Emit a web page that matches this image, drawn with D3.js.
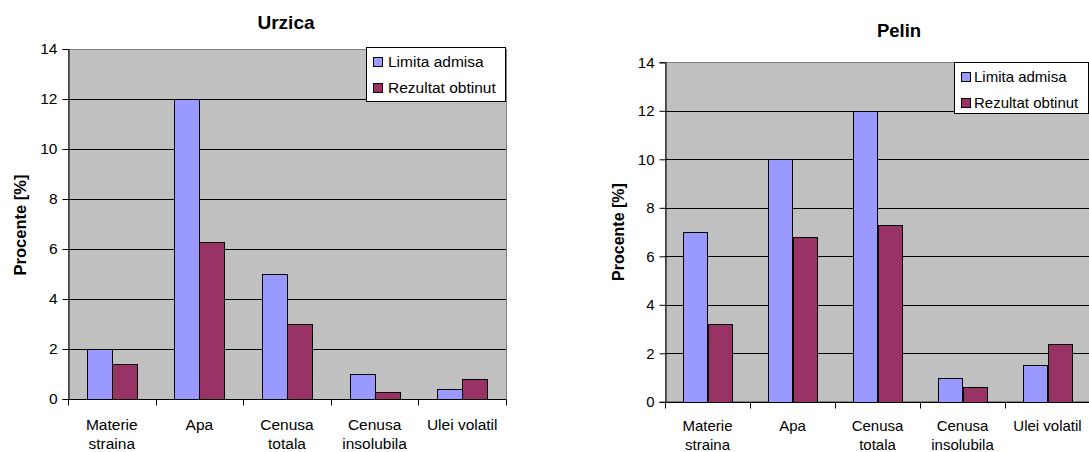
<!DOCTYPE html>
<html>
<head>
<meta charset="utf-8">
<script src="https://cdn.jsdelivr.net/npm/d3@7/dist/d3.min.js"></script>
<style>
  html, body { margin: 0; padding: 0; background: #fff; }
  svg { display: block; }
  text { font-family: "Liberation Sans", Arial, sans-serif; fill: #000; }
</style>
</head>
<body>
<svg id="chart" width="1089" height="452"></svg>
<script>
// ---- DATA ----
const categories = ["Materie straina", "Apa", "Cenusa totala", "Cenusa insolubila", "Ulei volatil"];
const categoryLines = [["Materie", "straina"], ["Apa"], ["Cenusa", "totala"], ["Cenusa", "insolubila"], ["Ulei volatil"]];
const seriesNames = ["Limita admisa", "Rezultat obtinut"];
const seriesColors = ["#9999FF", "#993366"];
const urzicaLimita = [2, 12, 5, 1, 0.4];
const urzicaRezultat = [1.4, 6.3, 3, 0.3, 0.8];
const pelinLimita = [7, 10, 12, 1, 1.5];
const pelinRezultat = [3.2, 6.8, 7.3, 0.6, 2.4];
const yTicks = [0, 2, 4, 6, 8, 10, 12, 14];
const yLabel = "Procente [%]";

const svg = d3.select("#chart");

function drawChart(cfg) {
  const g = svg.append("g");
  const x = d3.scaleBand().domain(categories).range([cfg.left, cfg.right]).paddingInner(0).paddingOuter(0);
  const x1 = d3.scaleBand().domain(seriesNames).range([0, x.bandwidth()]).paddingInner(0).paddingOuter(0.75);
  const y = d3.scaleLinear().domain([0, 14]).range([cfg.bottom, cfg.top]);

  // plot area
  g.append("rect")
    .attr("x", cfg.left).attr("y", y(14))
    .attr("width", cfg.right - cfg.left).attr("height", y(0) - y(14))
    .attr("fill", "#C0C0C0").attr("stroke", "#808080").attr("stroke-width", 1)
    .attr("shape-rendering", "crispEdges");

  // gridlines
  g.selectAll(".grid").data(yTicks.filter(t => t > 0 && t < 14)).enter().append("line")
    .attr("x1", cfg.left).attr("x2", cfg.right)
    .attr("y1", d => Math.round(y(d)) + 0.5).attr("y2", d => Math.round(y(d)) + 0.5)
    .attr("stroke", "#000").attr("stroke-width", 1);

  // bars
  const series = [cfg.s1, cfg.s2];
  series.forEach((vals, si) => {
    g.selectAll(".bar" + si).data(vals).enter().append("rect")
      .attr("x", (d, i) => Math.round(x(categories[i]) + x1(seriesNames[si])) + 0.5)
      .attr("y", d => Math.round(y(d)) + 0.5)
      .attr("width", Math.round(x1.bandwidth()))
      .attr("height", d => Math.round(y(0)) - Math.round(y(d)))
      .attr("fill", seriesColors[si]).attr("stroke", "#000").attr("stroke-width", 1);
  });

  // y axis
  const yAxis = d3.axisLeft(y).tickValues(yTicks).tickSize(6).tickPadding(5).tickFormat(d3.format("d"));
  const ya = g.append("g").attr("transform", `translate(${Math.round(cfg.left) + 0.5},0)`).call(yAxis);
  ya.select(".domain").attr("stroke", "#000");
  ya.selectAll("line").attr("stroke", "#000");
  ya.selectAll("text").style("font-size", cfg.fs + "px").style("font-family", '"Liberation Sans", Arial, sans-serif');

  // x axis (baseline + boundary ticks)
  const xa = g.append("g");
  xa.append("line").attr("x1", cfg.left).attr("x2", cfg.right)
    .attr("y1", Math.round(y(0)) + 0.5).attr("y2", Math.round(y(0)) + 0.5)
    .attr("stroke", "#000");
  const bounds = categories.map(c => x(c)).concat([cfg.right]);
  xa.selectAll(".xt").data(bounds).enter().append("line")
    .attr("x1", d => Math.round(d) + 0.5).attr("x2", d => Math.round(d) + 0.5)
    .attr("y1", Math.round(y(0)) + 0.5).attr("y2", Math.round(y(0)) + 6.5)
    .attr("stroke", "#000");
  categoryLines.forEach((lines, i) => {
    const cx = x(categories[i]) + x.bandwidth() / 2;
    lines.forEach((ln, li) => {
      xa.append("text").attr("x", cx).attr("y", cfg.xl1 + li * cfg.xlStep)
        .attr("text-anchor", "middle").attr("dominant-baseline", "central")
        .style("font-size", cfg.fs + "px").text(ln);
    });
  });

  // title
  g.append("text").attr("x", cfg.titleX).attr("y", cfg.titleY)
    .attr("text-anchor", "middle").attr("dominant-baseline", "central")
    .style("font-size", cfg.titleFs + "px").style("font-weight", "bold").text(cfg.title);

  // y label
  g.append("text").attr("transform", `translate(${cfg.ylX},${cfg.ylY}) rotate(-90)`)
    .attr("text-anchor", "middle").attr("dominant-baseline", "central")
    .style("font-size", cfg.ylFs + "px").style("font-weight", "bold").text(yLabel);

  // legend
  const lg = g.append("g");
  lg.append("rect").attr("x", cfg.lgX + 0.5).attr("y", cfg.lgY + 0.5)
    .attr("width", cfg.lgW).attr("height", cfg.lgH)
    .attr("fill", "#fff").attr("stroke", "#000");
  seriesNames.forEach((s, i) => {
    const ty = cfg.lgT[i];
    lg.append("rect").attr("x", cfg.swX + 0.5).attr("y", Math.round(ty - 4.5) + 0.5)
      .attr("width", 9).attr("height", 9)
      .attr("fill", seriesColors[i]).attr("stroke", "#000");
    lg.append("text").attr("x", cfg.txX).attr("y", ty)
      .attr("dominant-baseline", "central")
      .style("font-size", cfg.fs + "px").text(s);
  });
}

drawChart({
  left: 68, right: 506, top: 49, bottom: 399,
  s1: urzicaLimita, s2: urzicaRezultat,
  fs: 15.5, xl1: 424, xlStep: 19.5,
  title: "Urzica", titleX: 286, titleY: 22, titleFs: 19,
  ylX: 20, ylY: 225, ylFs: 16.5,
  lgX: 366, lgY: 47, lgW: 139, lgH: 54, lgT: [61, 87.5], swX: 373, txX: 388
});

drawChart({
  left: 665, right: 1090, top: 62.3, bottom: 401.8,
  s1: pelinLimita, s2: pelinRezultat,
  fs: 15, xl1: 425.5, xlStep: 18.5,
  title: "Pelin", titleX: 899, titleY: 30, titleFs: 18.5,
  ylX: 618, ylY: 232, ylFs: 16,
  lgX: 954, lgY: 62, lgW: 134, lgH: 51, lgT: [76, 102], swX: 961, txX: 974
});
</script>
</body>
</html>
